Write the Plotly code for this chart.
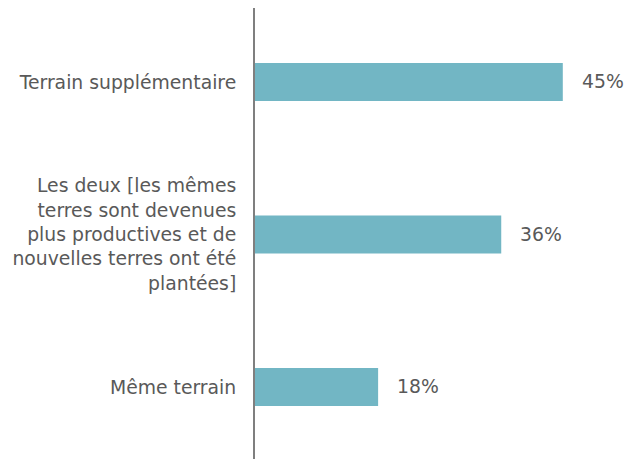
import plotly.graph_objects as go

categories = [
    "Terrain supplémentaire",
    "Les deux [les mêmes<br>terres sont devenues<br>plus productives et de<br>nouvelles terres ont été<br>plantées]",
    "Même terrain",
]
values = [45, 36, 18]
value_labels = ["45%", "36%", "18%"]

BAR_COLOR = "#72B6C4"
TEXT_COLOR = "#595959"
FONT = "DejaVu Sans, Arial, sans-serif"
FSIZE = 18.8

fig = go.Figure()
fig.add_trace(go.Bar(
    x=values,
    y=categories,
    orientation="h",
    marker=dict(color=BAR_COLOR, line=dict(width=0)),
    hoverinfo="skip",
))

for v, c, t in zip(values, categories, value_labels):
    fig.add_annotation(
        x=v, y=c, text=t, showarrow=False,
        xanchor="left", yanchor="middle", xshift=17,
        font=dict(family=FONT, size=FSIZE, color=TEXT_COLOR),
    )

fig.update_layout(
    width=637, height=459,
    margin=dict(l=247, r=48, t=0, b=0),
    paper_bgcolor="white", plot_bgcolor="white",
    bargap=0.75,
    showlegend=False,
    font=dict(family=FONT, size=FSIZE, color=TEXT_COLOR),
)
fig.update_xaxes(
    range=[0, 50], visible=False, showgrid=False, zeroline=False,
)
fig.update_yaxes(
    type="category",
    range=[2.525, -0.485],
    showline=True, linecolor="#7F7F7F", linewidth=2,
    showgrid=False, zeroline=False,
    ticks="", ticklabelstandoff=13,
    tickfont=dict(family=FONT, size=FSIZE, color=TEXT_COLOR),
)

fig.write_html("out.html")
